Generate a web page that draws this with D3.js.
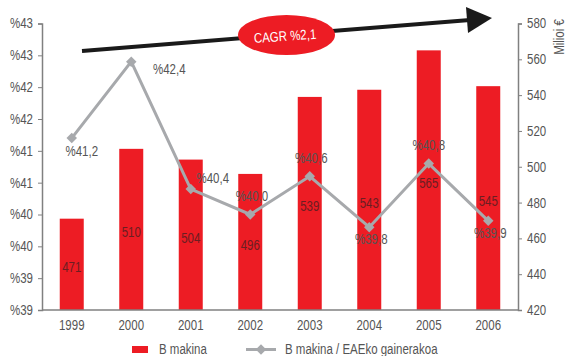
<!DOCTYPE html>
<html><head><meta charset="utf-8">
<script src="https://cdn.jsdelivr.net/npm/d3@7"></script>
<style>
body{margin:0;background:#fff;}
text{font-family:"Liberation Sans",Arial,sans-serif;}
</style></head>
<body><svg id="c" width="567" height="356"></svg>
<script>
const years = ["1999","2000","2001","2002","2003","2004","2005","2006"];
const barValues = [471,510,504,496,539,543,565,545];
const ratioValues = [41.2,42.4,40.4,40.0,40.6,39.8,40.8,39.9];
const ratioLabels = ["%41,2","%42,4","%40,4","%40,0","%40,6","%39,8","%40,8","%39,9"];
const leftTicks = [38.5,39.0,39.5,40.0,40.5,41.0,41.5,42.0,42.5,43.0];
const rightTicks = [420,440,460,480,500,520,540,560,580];
const seriesNames = ["B makina","B makina / EAEko gainerakoa"];
const cagrLabel = "CAGR %2,1";
const rightTitle = "Milioi €";

const svg = d3.select("#c");
const L = 42, R = 518, T = 23.5, B = 310;
const RED = "#ed1c24", GRAY = "#a7a9ac", TXT = "#555";
const FONT = '"Liberation Sans",Arial,sans-serif';

const x = d3.scaleBand().domain(years).range([L, R]);
const yL = d3.scaleLinear().domain([38.5, 43]).range([B, T]);
const yR = d3.scaleLinear().domain([420, 580]).range([B, T]);
const bw = 24;

// bars
svg.selectAll("rect.bar").data(years).join("rect")
  .attr("x", d => x(d) + x.bandwidth()/2 - bw/2)
  .attr("y", (d,i) => yR(barValues[i]))
  .attr("width", bw)
  .attr("height", (d,i) => B - yR(barValues[i]))
  .attr("fill", RED);

svg.selectAll("text.bl").data(years).join("text").attr("class","bl")
  .attr("x", d => x(d) + x.bandwidth()/2)
  .attr("y", (d,i) => (yR(barValues[i]) + B)/2 + 8)
  .attr("text-anchor","middle").attr("font-size",14).attr("fill","#6b1e22")
  .text((d,i) => barValues[i]);

// axes
const axL = svg.append("g").attr("transform",`translate(${L},0)`)
  .call(d3.axisLeft(yL).tickValues(leftTicks).tickSize(4).tickPadding(5)
    .tickFormat(v => "%" + Math.round(v + 1e-9)));
const axR = svg.append("g").attr("transform",`translate(${R},0)`)
  .call(d3.axisRight(yR).tickValues(rightTicks).tickSize(4).tickPadding(5));
const axB = svg.append("g").attr("transform",`translate(0,${B})`)
  .call(d3.axisBottom(x).tickSize(0).tickPadding(10));
[axL, axR, axB].forEach(g => {
  g.selectAll("path.domain").attr("stroke","#808080").attr("stroke-width",1.5);
  g.selectAll(".tick line").attr("stroke","#808080");
  g.selectAll("text").attr("font-size",14).attr("fill",TXT).attr("font-family",FONT);
});
axB.select("path.domain").attr("d",`M${L},0H${R}`);

svg.append("text").attr("transform",`translate(559.5,37) rotate(-90)`)
  .attr("text-anchor","middle").attr("dy","0.35em").attr("font-size",14).attr("fill",TXT)
  .text(rightTitle);

// line
const cx = d => x(d) + x.bandwidth()/2;
const line = d3.line().x((d,i) => cx(years[i])).y(d => yL(d));
svg.append("path").datum(ratioValues).attr("d", line)
  .attr("fill","none").attr("stroke",GRAY).attr("stroke-width",3);
svg.selectAll("path.pt").data(ratioValues).join("path")
  .attr("transform",(d,i) => `translate(${cx(years[i])},${yL(d)}) rotate(45)`)
  .attr("d", d3.symbol().type(d3.symbolSquare).size(55)).attr("fill",GRAY);

const lblOff = [[10,12.6],[38,7.3],[22,-11.3],[1.7,-18.8],[1.5,-18.3],[2,11.8],[0,-18.6],[2,12.1]];
svg.selectAll("text.pl").data(ratioValues).join("text").attr("class","pl")
  .attr("x",(d,i) => cx(years[i]) + lblOff[i][0])
  .attr("y",(d,i) => yL(d) + lblOff[i][1] + 5)
  .attr("text-anchor","middle").attr("font-size",14).attr("fill",TXT)
  .text((d,i) => ratioLabels[i]);

// CAGR arrow
svg.append("line").attr("x1",82).attr("y1",51).attr("x2",470).attr("y2",20)
  .attr("stroke","#1a1a1a").attr("stroke-width",4);
svg.append("path").attr("d","M466,7 L492,18 L468,33 Z").attr("fill","#1a1a1a");
svg.append("ellipse").attr("cx",286.5).attr("cy",35).attr("rx",48.5).attr("ry",20).attr("fill",RED);
svg.append("text").attr("transform","translate(285,36) rotate(-4)")
  .attr("text-anchor","middle").attr("dy","0.35em").attr("font-size",14).attr("fill","#fff")
  .text(cagrLabel);

// legend
svg.append("rect").attr("x",132).attr("y",346).attr("width",16).attr("height",7).attr("fill",RED);
svg.append("text").attr("x",159).attr("y",354).attr("font-size",14).attr("fill",TXT).text(seriesNames[0]);
svg.append("line").attr("x1",246).attr("x2",276).attr("y1",349.5).attr("y2",349.5)
  .attr("stroke",GRAY).attr("stroke-width",3);
svg.append("path").attr("transform","translate(261,349.5) rotate(45)")
  .attr("d", d3.symbol().type(d3.symbolSquare).size(55)).attr("fill",GRAY);
svg.append("text").attr("x",285).attr("y",354).attr("font-size",14).attr("fill",TXT).text(seriesNames[1]);

// condense all text to mimic the narrow original typeface
svg.selectAll("text").each(function(){
  const len = this.getComputedTextLength();
  if (len > 0) d3.select(this).attr("textLength", len*0.82).attr("lengthAdjust","spacingAndGlyphs");
});
</script></body></html>
